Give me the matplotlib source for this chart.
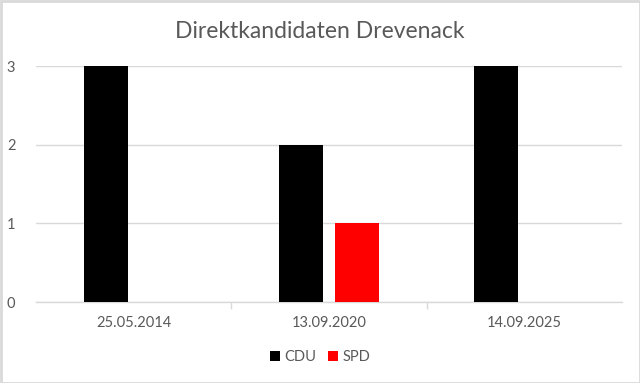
import matplotlib
matplotlib.use("Agg")
import matplotlib.pyplot as plt
import numpy as np
from matplotlib.patches import Rectangle

plt.rcParams['font.family'] = ['Lato', 'DejaVu Sans']

categories = ["25.05.2014", "13.09.2020", "14.09.2025"]
cdu = [3, 2, 3]
spd = [0, 1, 0]
yticks = [0, 1, 2, 3]

W, H = 640, 383
fig = plt.figure(figsize=(W/100, H/100), dpi=100)
ax = fig.add_axes([36/W, 1-302/H, (622-36)/W, (302-66)/H])

x = np.arange(len(categories))
bw = 0.225
off = 0.143
ax.bar(x - off, cdu, bw, color='black', label='CDU', zorder=3)
ax.bar(x + off, spd, bw, color='#FF0000', label='SPD', zorder=3)

ax.set_xlim(-0.5, len(categories) - 0.5)
ax.set_ylim(0, 3)
ax.set_yticks(yticks)
ax.set_yticklabels([str(v) for v in yticks])
ax.yaxis.grid(True, color='#D9D9D9', linewidth=1)
ax.set_axisbelow(True)
for s in ['top', 'right', 'left']:
    ax.spines[s].set_visible(False)
ax.spines['bottom'].set_color('#D9D9D9')
ax.spines['bottom'].set_linewidth(1)
ax.tick_params(axis='y', length=0, pad=21, labelsize=10.5, labelcolor='#595959')
ax.set_xticks(x)
ax.set_xticklabels(categories)
ax.tick_params(axis='x', length=0, pad=10, labelsize=10.5, labelcolor='#595959')
ax.set_xticks(np.arange(0.5, len(categories) - 1, 1), minor=True)
ax.tick_params(axis='x', which='minor', length=5, color='#D9D9D9', width=1)
for lbl in ax.get_yticklabels():
    lbl.set_horizontalalignment('left')

fig.text(0.5, 1-32/H, "Direktkandidaten Drevenack", ha='center', va='center',
         fontsize=16.5, color='#595959')

leg = fig.legend(loc='center', bbox_to_anchor=(0.5, 1-357/H), ncol=2, frameon=False,
                 fontsize=10.5, labelcolor='#595959', handlelength=0.7, handleheight=0.7,
                 handletextpad=0.3, columnspacing=0.8)

fig.patches.append(Rectangle((0.5/W, 0.5/H), 1-1/W, 1-1/H, transform=fig.transFigure,
                             fill=False, edgecolor='#D9D9D9', linewidth=2))

fig.savefig("out.png", dpi=100)
